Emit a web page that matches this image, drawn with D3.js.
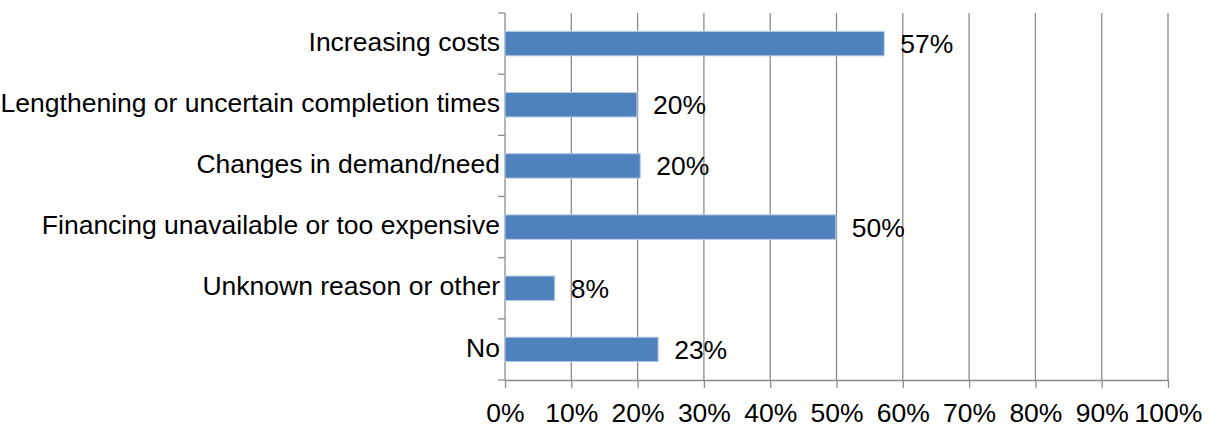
<!DOCTYPE html>
<html>
<head>
<meta charset="utf-8">
<script src="https://cdn.jsdelivr.net/npm/d3@7"></script>
<style>
  body { margin: 0; background: #fff; }
  text { font-family: "Liberation Sans", Arial, sans-serif; fill: #000; }
</style>
</head>
<body>
<script>
var categories = ["Increasing costs", "Lengthening or uncertain completion times",
  "Changes in demand/need", "Financing unavailable or too expensive",
  "Unknown reason or other", "No"];
var values = [0.572, 0.199, 0.204, 0.499, 0.075, 0.231];
var valueLabels = ["57%", "20%", "20%", "50%", "8%", "23%"];
var xTicks = [0, 0.1, 0.2, 0.3, 0.4, 0.5, 0.6, 0.7, 0.8, 0.9, 1.0];

var width = 1224, height = 424;
var plotLeft = 505, plotRight = 1168, plotTop = 13, plotBottom = 380;
var grey = "#8c8c8c";
var fontSize = 26.5;

var svg = d3.select("body").append("svg")
    .attr("width", width)
    .attr("height", height);

var x = d3.scaleLinear().domain([0, 1]).range([plotLeft, plotRight]);
var y = d3.scaleBand().domain(categories).range([plotTop, plotBottom]).padding(0);
var bw = y.bandwidth();

// gridlines
svg.append("g").selectAll("line")
    .data(xTicks.slice(1))
  .enter().append("line")
    .attr("x1", function(d) { return x(d); })
    .attr("x2", function(d) { return x(d); })
    .attr("y1", plotTop)
    .attr("y2", plotBottom)
    .attr("stroke", grey)
    .attr("stroke-width", 1.3);

// x axis
var xAxis = svg.append("g")
    .attr("transform", "translate(0," + plotBottom + ")")
    .call(d3.axisBottom(x).tickValues(xTicks).tickFormat(d3.format(".0%")).tickSize(8).tickSizeOuter(0));
xAxis.select(".domain").attr("stroke", grey).attr("stroke-width", 1.3);
xAxis.selectAll(".tick line").attr("stroke", grey).attr("stroke-width", 1.3);
xAxis.selectAll(".tick text")
    .attr("font-size", fontSize)
    .attr("font-family", "Liberation Sans, Arial, sans-serif")
    .attr("fill", "#000")
    .attr("y", 23)
    .attr("dy", "0.71em");

// y axis line + ticks at band edges
svg.append("line")
    .attr("x1", plotLeft).attr("x2", plotLeft)
    .attr("y1", plotTop).attr("y2", plotBottom)
    .attr("stroke", grey).attr("stroke-width", 1.3);
var edges = categories.map(function(c) { return y(c); }).concat([plotBottom]);
svg.append("g").selectAll("line")
    .data(edges)
  .enter().append("line")
    .attr("x1", plotLeft - 7).attr("x2", plotLeft)
    .attr("y1", function(d) { return d; })
    .attr("y2", function(d) { return d; })
    .attr("stroke", grey).attr("stroke-width", 1.3);

// category labels
svg.append("g").selectAll("text")
    .data(categories)
  .enter().append("text")
    .attr("x", plotLeft - 5)
    .attr("y", function(d) { return y(d) + bw / 2; })
    .attr("dy", "0.27em")
    .attr("text-anchor", "end")
    .attr("font-size", fontSize)
    .text(function(d) { return d; });

// bars
svg.append("g").selectAll("rect")
    .data(values)
  .enter().append("rect")
    .attr("x", x(0))
    .attr("y", function(d, i) { return y(categories[i]) + bw * 0.3; })
    .attr("width", function(d) { return x(d) - x(0); })
    .attr("height", bw * 0.4)
    .attr("fill", "#4f81bd")
    .attr("stroke", "#b9cde5")
    .attr("stroke-width", 1);

// value labels
svg.append("g").selectAll("text")
    .data(values)
  .enter().append("text")
    .attr("x", function(d) { return x(d) + 16; })
    .attr("y", function(d, i) { return y(categories[i]) + bw / 2; })
    .attr("dy", "0.36em")
    .attr("font-size", fontSize)
    .text(function(d, i) { return valueLabels[i]; });
</script>
</body>
</html>
